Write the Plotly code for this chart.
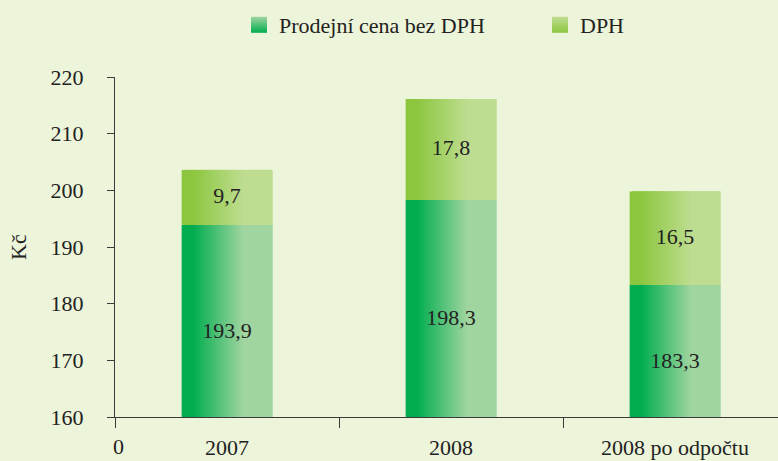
import plotly.graph_objects as go

categories = ["2007", "2008", "2008 po odpočtu"]
price_ex_vat = [193.9, 198.3, 183.3]
vat = [9.7, 17.8, 16.5]
series_names = ["Prodejní cena bez DPH", "DPH"]
y_ticks = [160, 170, 180, 190, 200, 210, 220]

FONT = "Liberation Serif"
FS = 22
BG = "#ecf4d9"
AX = "#3a3a3a"
TXT = "#222222"

# gradient stops (left colour, right colour) per series
grad = {
    0: ((0, 173, 79), (160, 213, 160)),
    1: ((140, 198, 63), (190, 221, 144)),
}

def rgb(c):
    return f"rgb({c[0]},{c[1]},{c[2]})"

def colour_at(t, c0, c1):
    a, b = 0.12, 0.68
    if t <= a:
        f = 0.0
    elif t >= b:
        f = 1.0
    else:
        f = (t - a) / (b - a)
    return rgb([round(c0[k] + (c1[k] - c0[k]) * f) for k in range(3)])

fig = go.Figure()

BAR_W = 0.405
N = 40
slice_w = BAR_W / N
bases_list = [[0] * len(categories), price_ex_vat]
values_list = [price_ex_vat, vat]

for s in range(2):
    c0, c1 = grad[s]
    for i in range(N):
        t = (i + 0.5) / N
        off = -BAR_W / 2 + i * slice_w
        w = min(slice_w * 3, BAR_W / 2 - off)
        fig.add_trace(go.Bar(
            x=categories, y=values_list[s], base=bases_list[s],
            width=w, offset=off,
            marker=dict(color=colour_at(t, c0, c1), line=dict(width=0)),
            showlegend=False, hoverinfo="skip",
        ))

# legend-only entries (square markers with a vertical gradient)
for s in range(2):
    c0, c1 = grad[s]
    fig.add_trace(go.Scatter(
        x=[categories[0]], y=[None], name=series_names[s], mode="markers",
        marker=dict(symbol="square", size=16, color=rgb(c1),
                    gradient=dict(type="vertical", color=rgb(c0)),
                    line=dict(width=0)),
        showlegend=True, hoverinfo="skip",
    ))

def fmt(v):
    return f"{v:.1f}".replace(".", ",")

ymin = y_ticks[0]
low_y = [(ymin + v) / 2 - 2 for v in price_ex_vat]
top_y = [b + v / 2 for b, v in zip(price_ex_vat, vat)]
fig.add_trace(go.Scatter(
    x=categories + categories, y=low_y + top_y, mode="text",
    text=[fmt(v) for v in price_ex_vat] + [fmt(v) for v in vat],
    textfont=dict(family=FONT, size=FS, color=TXT),
    showlegend=False, hoverinfo="skip",
))

fig.update_layout(
    width=778, height=461,
    paper_bgcolor=BG, plot_bgcolor=BG,
    barmode="overlay",
    margin=dict(l=115, r=0, t=77, b=44),
    font=dict(family=FONT, size=FS, color=TXT),
    legend=dict(
        orientation="h", xref="container", yref="container",
        x=239 / 778, xanchor="left", y=1 - 25 / 461, yanchor="middle",
        entrywidth=256, entrywidthmode="pixels",
        font=dict(family=FONT, size=FS, color=TXT),
        bgcolor="rgba(0,0,0,0)",
    ),
    xaxis=dict(
        type="category", range=[-0.5, -0.5 + 663 / 224], automargin=False,
        tickson="boundaries", ticks="outside", ticklen=10, tickcolor=AX,
        showline=True, linecolor=AX, linewidth=1,
        showgrid=False, zeroline=False, ticklabelstandoff=11,
        tickfont=dict(family=FONT, size=FS, color=TXT),
    ),
    yaxis=dict(
        range=[160, 220], tickvals=y_ticks, ticks="outside", ticklen=7,
        automargin=False,
        tickcolor=AX, showline=True, linecolor=AX, linewidth=1,
        showgrid=False, zeroline=False, ticklabelstandoff=19,
        tickfont=dict(family=FONT, size=FS, color=TXT),
    ),
    annotations=[
        dict(text="Kč", xref="paper", yref="paper", x=-(115 - 18) / 663, y=0.5,
             textangle=-90, showarrow=False, xanchor="center", yanchor="middle",
             font=dict(family=FONT, size=FS, color=TXT)),
        dict(text="0", xref="paper", yref="paper", x=0, y=0, xshift=3, yshift=-15,
             showarrow=False, xanchor="center", yanchor="top",
             font=dict(family=FONT, size=FS, color=TXT)),
    ],
)

fig.write_html("out.html", config={"displayModeBar": False},
               post_script="document.body.style.margin='0';")
